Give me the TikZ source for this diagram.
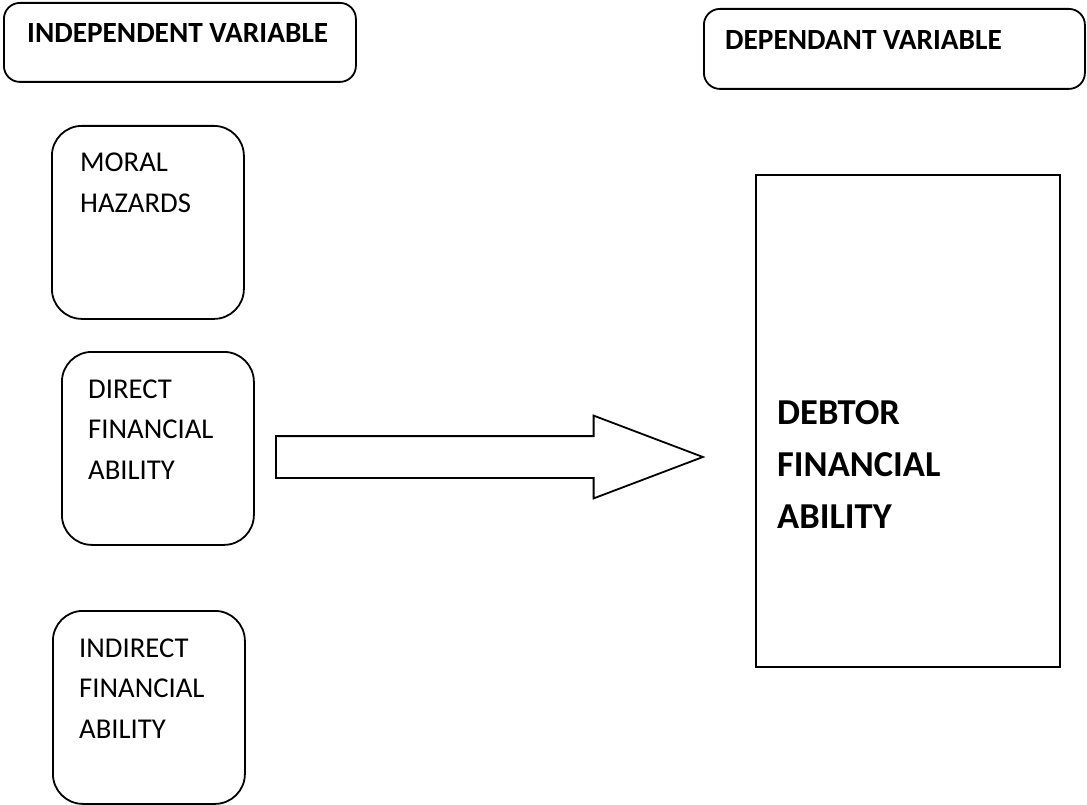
\documentclass[tikz,border=0pt]{standalone}
\usepackage{fontspec}
\setmainfont{Carlito}
\usetikzlibrary{shapes.arrows,positioning}

\begin{document}
\begin{tikzpicture}[x=1pt, y=-1pt,
  headbox/.style={rectangle, rounded corners=16pt, draw=black, line width=1.8pt,
                  minimum width=352pt, minimum height=79pt, anchor=north west, inner sep=0pt},
  varbox/.style={rectangle, rounded corners=30pt, draw=black, line width=1.8pt,
                 minimum width=192pt, minimum height=193pt, anchor=north west, inner sep=0pt},
  depbox/.style={rectangle, draw=black, line width=1.8pt,
                 minimum width=304pt, minimum height=492pt, anchor=north west, inner sep=0pt},
  txt/.style={inner sep=0pt, align=left, anchor=base west, font=\fontsize{28.7}{40.5}\selectfont},
  headtxt/.style={txt, font=\fontsize{29.3}{40.5}\selectfont\bfseries},
  bigtxt/.style={inner sep=0pt, align=left, anchor=base west, font=\fontsize{36.5}{51.6}\selectfont\bfseries},
  bigarrow/.style={single arrow, draw=black, line width=1.8pt, inner xsep=0pt, inner ysep=20pt,
                   minimum height=427pt, single arrow head extend=20.5pt,
                   single arrow tip angle=41.5, anchor=tail},
]
\useasboundingbox (0,0) rectangle (1087,805);
% headers
\node[headbox] (indep) at (3,2) {};
\node[headtxt] (indeptxt) at (27,43) {INDEPENDENT VARIABLE};
\node[headbox, minimum width=381pt, minimum height=80pt] (dep) at (703,8) {};
\node[headtxt] (deptxt) at (725,50) {DEPENDANT VARIABLE};
% independent variables (base = last line)
\node[varbox] (moral) at (51,125) {};
\node[txt] (moraltxt) at (80,212.5) {MORAL\\HAZARDS};
\node[varbox] (direct) at (61,351) {};
\node[txt] (directtxt) at (88,479) {DIRECT\\FINANCIAL\\ABILITY};
\node[varbox] (indirect) at (52,610) {};
\node[txt] (indirecttxt) at (79,738) {INDIRECT\\FINANCIAL\\ABILITY};
% dependent variable
\node[depbox] (debtor) at (755,174) {};
\node[bigtxt] (debtortxt) at (777,528) {DEBTOR\\FINANCIAL\\ABILITY};
% arrow
\node[bigarrow] (flow) at (275,457) {};
\end{tikzpicture}
\end{document}
